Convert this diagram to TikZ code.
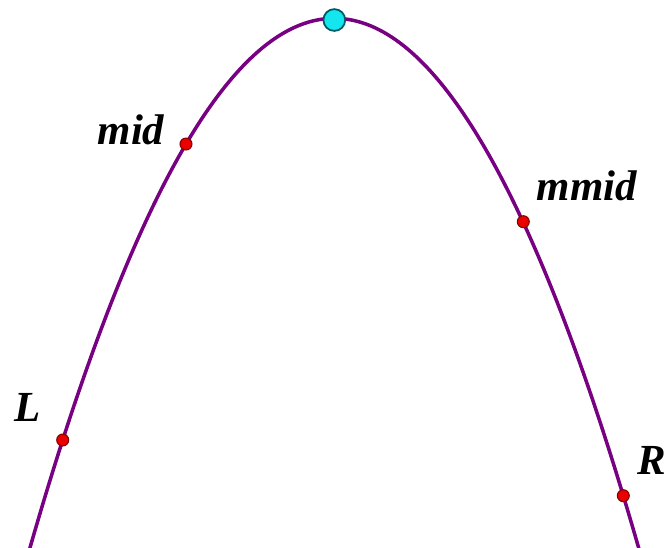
\documentclass[tikz,border=0pt]{standalone}
\usepackage{fontspec}
\setmainfont{Liberation Serif}
\definecolor{curvepurple}{RGB}{120,0,130}
\definecolor{apexcyan}{RGB}{20,230,240}
\definecolor{apexrim}{RGB}{0,90,100}
\definecolor{dotred}{RGB}{235,0,0}
\definecolor{dotrim}{RGB}{130,0,0}
\tikzset{
  curve/.style={draw=curvepurple, line width=1pt},
  reddot/.style={circle, fill=dotred, draw=dotrim, line width=0.3pt, inner sep=0pt, minimum size=3.4pt},
  apexdot/.style={circle, fill=apexcyan, draw=apexrim, line width=0.5pt, inner sep=0pt, minimum size=6.2pt},
  lbl/.style={inner sep=0pt, font=\fontsize{12.2}{14}\selectfont\bfseries\itshape}
}
\begin{document}
\begin{tikzpicture}
\useasboundingbox (0,0) rectangle (6.67,5.47);
\clip (0,0) rectangle (6.67,5.47);
\draw[curve] plot[domain=0.25:6.45, samples=150, smooth] (\x, {5.287 - 0.5717*(\x-3.343)*(\x-3.343)});
\node[apexdot] (top) at (3.343,5.27) {};
\node[reddot] (pmid) at (1.86,4.03) {};
\node[reddot] (pmmid) at (5.233,3.253) {};
\node[reddot] (pL) at (0.627,1.07) {};
\node[reddot] (pR) at (6.233,0.513) {};
\node[lbl] (tmid) at (1.31,4.17) {mid};
\node[lbl] (tmmid) at (5.87,3.61) {mmid};
\node[lbl] (tL) at (0.275,1.395) {L};
\node[lbl] (tR) at (6.52,0.87) {R};
\end{tikzpicture}
\end{document}
